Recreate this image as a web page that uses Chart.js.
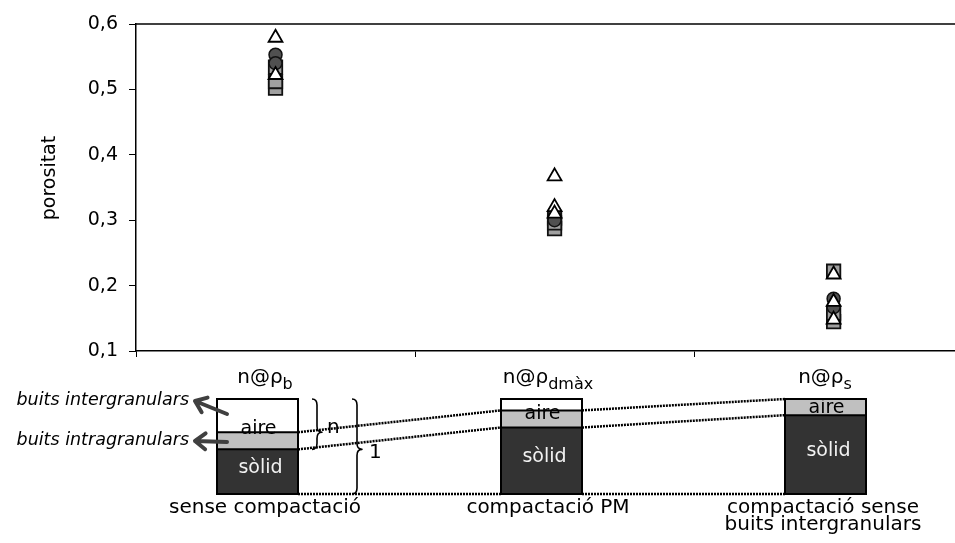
<!DOCTYPE html>
<html>
<head>
<meta charset="utf-8">
<script src="https://cdn.jsdelivr.net/npm/chart.js@4.4.1/dist/chart.umd.min.js"></script>
<style>
  body { margin: 0; background: #fff; }
  #wrap { width: 955px; height: 543px; }
</style>
</head>
<body>
<div id="wrap"><canvas id="chart" width="955" height="543"></canvas></div>
<script>
// categories on the x axis: n at each density (subscript part separate)
const catSubs = ['b', 'dmàx', 's']
const catNames = ['sense compactació', 'compactació PM', ['compactació sense', 'buits intergranulars']]

// porosity values per category, one list per marker style
const squares = [[0.502, 0.534, 0.512], [0.287, 0.303, 0.296], [0.222, 0.145, 0.158]]
const circles = [[0.553, 0.54], [0.312, 0.3], [0.18, 0.167]]
const triangles = [[0.579, 0.522], [0.367, 0.32, 0.31], [0.217, 0.175, 0.148]]

// volume fractions for the schematic boxes under the chart
const solid = [0.47, 0.70, 0.83]
const intraVoid = [0.18, 0.18, 0.17]
const interVoid = [0.35, 0.12, 0]

const FONT = 'DejaVu Sans'
Chart.defaults.font.family = FONT
Chart.defaults.color = '#000'

function toPoints(groups) {
    const pts = []
    groups.forEach((vals, i) => vals.forEach(v => pts.push({ x: i + 1, y: v })))
    return pts
}

const squareSet = {
    label: 'quadrats',
    data: toPoints(squares),
    pointStyle: 'rect',
    pointRadius: 9.5,
    backgroundColor: '#a0a0a0',
    borderColor: '#111',
    borderWidth: 1.8,
    showLine: false,
    order: 3
}

const circleSet = {
    label: 'cercles',
    data: toPoints(circles),
    pointStyle: 'circle',
    pointRadius: 6.5,
    backgroundColor: '#505050',
    borderColor: '#111',
    borderWidth: 1.5,
    showLine: false,
    order: 2
}

const triangleSet = {
    label: 'triangles',
    data: toPoints(triangles),
    pointStyle: 'triangle',
    pointRadius: 8,
    backgroundColor: '#fff',
    borderColor: '#000',
    borderWidth: 1.8,
    showLine: false,
    order: 1
}

// schematic: stacked boxes, arrows, braces and labels
const diagram = {
    id: 'diagram',
    beforeDatasetsDraw(chart) {
        // top edge of the plot area
        const { ctx, chartArea } = chart
        ctx.save()
        ctx.strokeStyle = '#000'
        ctx.lineWidth = 1.5
        ctx.beginPath()
        ctx.moveTo(chartArea.left, chartArea.top)
        ctx.lineTo(chartArea.right, chartArea.top)
        ctx.stroke()
        ctx.restore()
    },
    afterDraw(chart) {
        const ctx = chart.ctx
        ctx.save()

        // y axis title
        ctx.save()
        ctx.translate(50, 178)
        ctx.rotate(-Math.PI / 2)
        ctx.font = `19px ${FONT}`
        ctx.fillStyle = '#000'
        ctx.textAlign = 'center'
        ctx.textBaseline = 'middle'
        ctx.fillText('porositat', 0, 0)
        ctx.restore()

        // category labels n@ρ with subscript
        const labelX = [265, 548, 825]
        labelX.forEach((cx, i) => {
            const main = 'n@ρ'
            ctx.font = `16px ${FONT}`
            const sw = ctx.measureText(catSubs[i]).width
            ctx.font = `20px ${FONT}`
            const mw = ctx.measureText(main).width
            const x0 = cx - (mw + sw) / 2
            ctx.fillStyle = '#000'
            ctx.textAlign = 'left'
            ctx.textBaseline = 'alphabetic'
            ctx.fillText(main, x0, 383)
            ctx.font = `16px ${FONT}`
            ctx.fillText(catSubs[i], x0 + mw, 389)
        })

        const boxLeft = [217, 501, 785]
        const boxW = 81, boxH = 95, bottom = 494
        const edges = []
        boxLeft.forEach((bx, i) => {
            const sTop = bottom - solid[i] * boxH
            const gTop = sTop - intraVoid[i] * boxH
            const wTop = gTop - interVoid[i] * boxH
            edges.push({ gTop, sTop, wTop })
            ctx.fillStyle = '#333'
            ctx.fillRect(bx, sTop, boxW, bottom - sTop)
            ctx.fillStyle = '#c0c0c0'
            ctx.fillRect(bx, gTop, boxW, sTop - gTop)
            ctx.fillStyle = '#fff'
            ctx.fillRect(bx, wTop, boxW, gTop - wTop)
            ctx.strokeStyle = '#000'
            ctx.lineWidth = 2
            ctx.strokeRect(bx, wTop, boxW, bottom - wTop)
            ctx.beginPath()
            ctx.moveTo(bx, gTop); ctx.lineTo(bx + boxW, gTop)
            ctx.moveTo(bx, sTop); ctx.lineTo(bx + boxW, sTop)
            ctx.stroke()
        })

        // dotted guide lines between boxes
        ctx.save()
        ctx.strokeStyle = '#000'
        ctx.lineWidth = 2.5
        ctx.setLineDash([2, 1])
        ctx.beginPath()
        for (let i = 0; i < 2; i++) {
            const x1 = boxLeft[i] + boxW, x2 = boxLeft[i + 1]
            ctx.moveTo(x1, edges[i].gTop); ctx.lineTo(x2, edges[i + 1].gTop)
            ctx.moveTo(x1, edges[i].sTop); ctx.lineTo(x2, edges[i + 1].sTop)
            ctx.moveTo(x1, bottom); ctx.lineTo(x2, bottom)
        }
        ctx.stroke()
        ctx.restore()

        // texts inside boxes
        const aireY = [429, 414, 408]
        ctx.textAlign = 'center'
        ctx.textBaseline = 'middle'
        ctx.font = `19px ${FONT}`
        boxLeft.forEach((bx, i) => {
            ctx.fillStyle = '#000'
            ctx.fillText('aire', bx + boxW / 2 + 1, aireY[i])
            ctx.fillStyle = '#f2f2f2'
            ctx.fillText('sòlid', bx + boxW / 2 + 3, (edges[i].sTop + bottom) / 2 - 4)
        })

        // names under boxes
        ctx.fillStyle = '#000'
        ctx.font = `20px ${FONT}`
        const nameX = [265, 548, 823]
        catNames.forEach((nm, i) => {
            const lines = Array.isArray(nm) ? nm : [nm]
            lines.forEach((ln, j) => ctx.fillText(ln, nameX[i], 508 + j * 17))
        })

        // void labels with arrows
        ctx.font = `italic 17.5px ${FONT}`
        ctx.textAlign = 'right'
        ctx.fillText('buits intergranulars', 189, 400)
        ctx.fillText('buits intragranulars', 189, 440)
        const arrow = (x0, y0, x1, y1) => {
            const a = Math.atan2(y1 - y0, x1 - x0)
            const h = 13
            ctx.beginPath()
            ctx.moveTo(x0, y0); ctx.lineTo(x1, y1)
            ctx.moveTo(x1 + h * Math.cos(a + Math.PI - 0.65), y1 + h * Math.sin(a + Math.PI - 0.65))
            ctx.lineTo(x1, y1)
            ctx.lineTo(x1 + h * Math.cos(a + Math.PI + 0.65), y1 + h * Math.sin(a + Math.PI + 0.65))
            ctx.stroke()
        }
        ctx.strokeStyle = '#404040'
        ctx.lineWidth = 4
        ctx.lineCap = 'round'
        ctx.lineJoin = 'round'
        arrow(227, 414, 195, 401)
        arrow(227, 442, 195, 441)

        // braces
        const brace = (x, y0, y1, ym, w) => {
            const r = 6
            ctx.beginPath()
            ctx.moveTo(x, y0)
            ctx.quadraticCurveTo(x + w / 2, y0, x + w / 2, y0 + r)
            ctx.lineTo(x + w / 2, ym - r)
            ctx.quadraticCurveTo(x + w / 2, ym, x + w, ym)
            ctx.quadraticCurveTo(x + w / 2, ym, x + w / 2, ym + r)
            ctx.lineTo(x + w / 2, y1 - r)
            ctx.quadraticCurveTo(x + w / 2, y1, x, y1)
            ctx.stroke()
        }
        ctx.strokeStyle = '#000'
        ctx.lineWidth = 1.6
        ctx.lineCap = 'butt'
        brace(312, edges[0].wTop, edges[0].sTop, edges[0].gTop, 10)
        brace(352, edges[0].wTop, bottom, edges[0].sTop, 10)
        ctx.fillStyle = '#000'
        ctx.textAlign = 'left'
        ctx.font = `20px ${FONT}`
        ctx.fillText('n', 327, 428)
        ctx.fillText('1', 369, 453)

        ctx.restore()
    }
}

const config = {
    type: 'line',
    data: { datasets: [triangleSet, circleSet, squareSet] },
    options: {
        responsive: false,
        animation: false,
        layout: { autoPadding: false, padding: { top: 24, left: 0, right: 0, bottom: 0 } },
        plugins: { legend: { display: false }, tooltip: { enabled: false } },
        scales: {
            x: {
                type: 'linear',
                min: 0.5,
                max: 3.435,
                afterBuildTicks: (s) => { s.ticks = [{ value: 0.5 }, { value: 1.5 }, { value: 2.5 }] },
                afterFit: (s) => { s.height = 543 - 351 },
                ticks: { display: false },
                grid: { drawOnChartArea: false, drawTicks: true, tickLength: 6, color: '#000' },
                border: { color: '#000', width: 1.5 }
            },
            y: {
                min: 0.1,
                max: 0.6,
                afterFit: (s) => { s.width = 136 },
                ticks: {
                    stepSize: 0.1,
                    font: { size: 19 },
                    padding: 11,
                    callback: (v) => v.toFixed(1).replace('.', ',')
                },
                grid: { drawOnChartArea: false, drawTicks: true, tickLength: 7, color: '#000' },
                border: { color: '#000', width: 1.5 }
            }
        }
    },
    plugins: [diagram]
}

const chart = new Chart(document.getElementById('chart'), config)
</script>
</body>
</html>
